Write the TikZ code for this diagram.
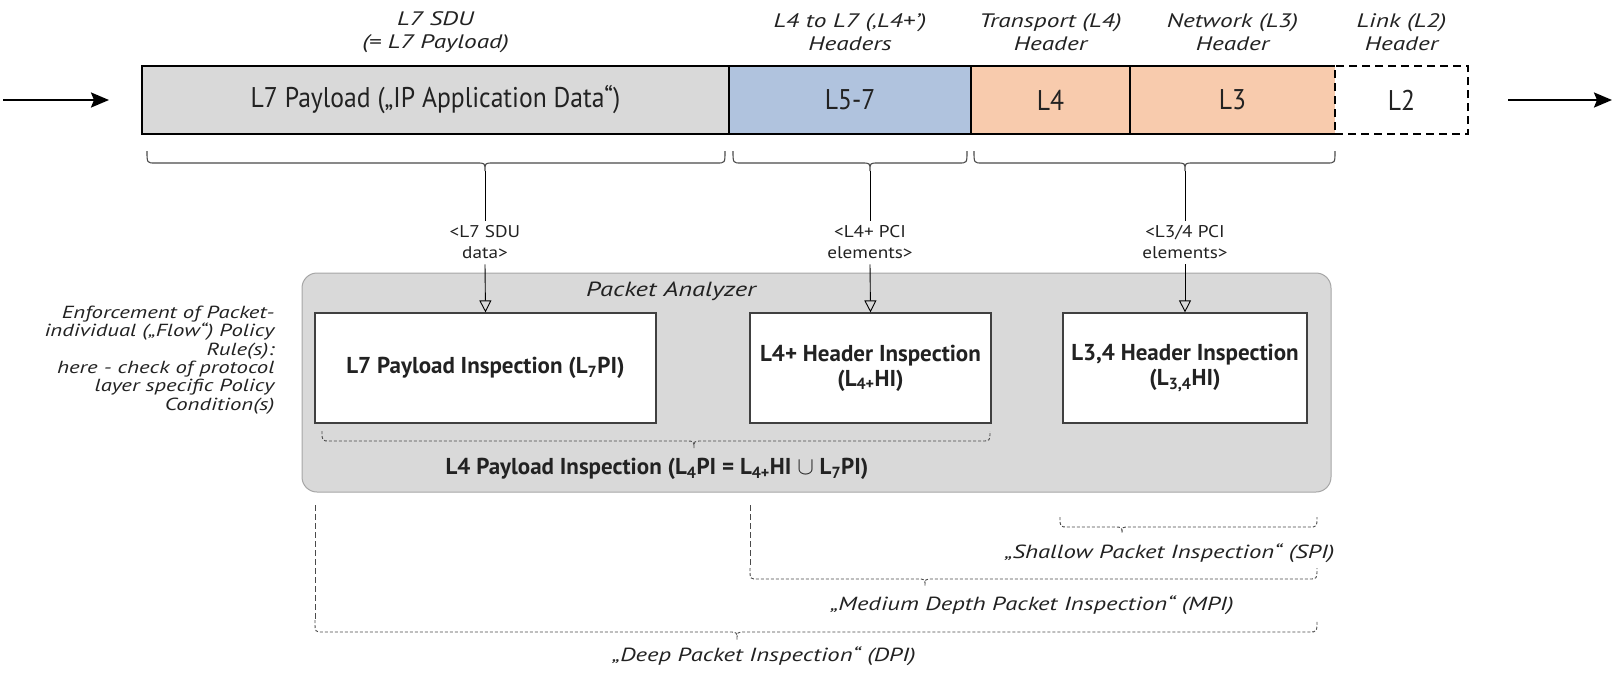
\documentclass[tikz,border=0pt]{standalone}
\usepackage{fontspec}
\setmainfont{PT Sans}
\newfontfamily\condf{PT Sans}[FakeStretch=0.9]
\newfontfamily\widef{PT Sans}[FakeStretch=1.13]
\newfontfamily\itf{PT Sans}[FakeStretch=1.3]
\usetikzlibrary{arrows.meta}

\definecolor{txt}{HTML}{222222}
\definecolor{payload}{HTML}{D9D9D9}
\definecolor{hdrblue}{HTML}{B0C3DE}
\definecolor{hdrorange}{HTML}{F8CBAD}
\definecolor{pafill}{HTML}{D9D9D9}
\definecolor{paline}{HTML}{A6A6A6}
\definecolor{boxline}{HTML}{404040}
\definecolor{bracecol}{HTML}{4A4A4A}

% curly brace: [style]{x left}{x right}{x tip}{y ends}{y bar}{y tip}
\newcommand{\curlyb}[7][]{%
  \draw[#1] (#2,#5) .. controls (#2,#6) .. (#2+8,#6) -- (#4-8,#6)
    .. controls (#4,#6) .. (#4,#7) .. controls (#4,#6) .. (#4+8,#6)
    -- (#3-8,#6) .. controls (#3,#6) .. (#3,#5);}

\begin{document}
\begin{tikzpicture}[x=1pt,y=-1pt,
  cell/.style={minimum height=68pt, inner sep=0pt, text=txt,
    font=\condf\fontsize{28.5}{31}\selectfont},
  hdr/.style={align=center, text=txt, font=\itf\itshape\fontsize{19.5}{22.4}\selectfont},
  pci/.style={align=center, text=txt, inner sep=5pt,
    font=\widef\fontsize{17}{21}\selectfont},
  insp/.style={draw=boxline, fill=white, line width=1.2pt, minimum height=110pt,
    inner sep=0pt, align=center, text=txt,
    font=\bfseries\fontsize{23}{25}\selectfont},
  depth/.style={text=txt, font=\itf\itshape\fontsize{19}{22}\selectfont},
  sbrace/.style={draw=bracecol, line width=1.1pt},
  dbrace/.style={draw=bracecol, line width=0.9pt, dash pattern=on 3pt off 2pt},
  dlead/.style={draw=bracecol, line width=0.9pt, dash pattern=on 6pt off 3pt},
  bigarrow/.style={line width=2.4pt, -{Stealth[length=18pt,width=15pt,inset=3pt]}},
  feed/.style={line width=0.9pt, -{Triangle[open,length=12pt,width=12pt]}}
]
\useasboundingbox (0,0) rectangle (1614,678);

% ---- packet fields ----
\node[cell, fill=payload, minimum width=587pt] (c7) at (435.5,100) {L7 Payload („IP Application Data“)};
\node[cell, fill=hdrblue, minimum width=242pt] (c57) at (850,100) {L5-7};
\node[cell, fill=hdrorange, minimum width=159pt] (c4) at (1050.5,100) {L4};
\node[cell, fill=hdrorange, minimum width=205pt] (c3) at (1232.5,100) {L3};
\node[cell, minimum width=133pt, draw, line width=1.5pt, dash pattern=on 8pt off 5pt] (c2) at (1401.5,100) {L2};
\draw[line width=1.5pt] (c3.north east) -- (c7.north west) -- (c7.south west) -- (c3.south east);
\draw[line width=1.5pt] (c7.north east) -- (c7.south east);
\draw[line width=1.5pt] (c57.north east) -- (c57.south east);
\draw[line width=1.5pt] (c4.north east) -- (c4.south east);

% ---- field titles ----
\node[hdr] (h7) at (435.5,32) {L7 SDU\\(= L7 Payload)};
\node[hdr] (h57) at (850,32) {L4 to L7 (‚L4+’)\\Headers};
\node[hdr] (h4) at (1050.5,32) {Transport (L4)\\Header};
\node[hdr] (h3) at (1232.5,32) {Network (L3)\\Header};
\node[hdr] (h2) at (1401.5,32) {Link (L2)\\Header};

% ---- flow arrows ----
\coordinate (inS) at (3,100);
\coordinate (inE) at (109,100);
\coordinate (outS) at (1508,100);
\coordinate (outE) at (1612,100);
\draw[bigarrow] (inS) -- (inE);
\draw[bigarrow] (outS) -- (outE);

% ---- packet analyzer ----
\node[draw=paline, fill=pafill, line width=1pt, rounded corners=15pt,
  minimum width=1029pt, minimum height=219pt] (pa) at (816.5,382.5) {};
\node[text=txt, font=\itf\itshape\fontsize{20.5}{24}\selectfont] (patitle) at (671,291) {Packet Analyzer};

\node[insp, minimum width=341pt] (l7pi) at (485.5,368) {L7 Payload Inspection (L\textsubscript{7}PI)};
\node[insp, minimum width=241pt] (l4hi) at (870.5,368) {L4+ Header Inspection\\(L\textsubscript{4+}HI)};
\node[insp, minimum width=244pt] (l34hi) at (1185,368) {L3,4 Header Inspection\\(L\textsubscript{3,4}HI)};

% ---- braces over the fields, feeding the inspections ----
\curlyb[sbrace]{147}{725}{485}{151}{163}{171}
\curlyb[sbrace]{733}{967}{870}{151}{163}{171}
\curlyb[sbrace]{974}{1335}{1185}{151}{163}{171}
\coordinate (t7) at (485,171);
\coordinate (t4) at (870,171);
\coordinate (t3) at (1185,171);

\node[pci] (p7) at (485,242.5) {<L7 SDU\\data>};
\node[pci] (p4) at (870,242.5) {<L4+ PCI\\elements>};
\node[pci] (p3) at (1185,242.5) {<L3/4 PCI\\elements>};

\draw[line width=0.9pt] (t7) -- (p7.north);
\draw[line width=0.9pt] (t4) -- (p4.north);
\draw[line width=0.9pt] (t3) -- (p3.north);
\draw[feed] (p7.south) -- (l7pi.north);
\draw[feed] (p4.south) -- (l4hi.north);
\draw[feed] (p3.south) -- (l34hi.north);

% ---- L4 payload inspection ----
\curlyb[dbrace]{322}{990}{694}{431}{441}{448}
\node[text=txt, font=\bfseries\fontsize{23}{25}\selectfont] (l4pi) at (657,469)
  {L4 Payload Inspection (L\textsubscript{4}PI = L\textsubscript{4+}HI $\cup$ L\textsubscript{7}PI)};

% ---- policy note ----
\node[anchor=east, align=right, text=txt, font=\itf\itshape\fontsize{17.5}{18.3}\selectfont] (note) at (278,360)
  {Enforcement of Packet-\\individual („Flow“) Policy\\Rule(s):\\here - check of protocol\\layer specific Policy\\Condition(s)};

% ---- inspection depths ----
\coordinate (dpiS) at (315,505);
\coordinate (dpiC) at (315,620);
\coordinate (mpiS) at (750,505);
\coordinate (mpiC) at (750,568);
\draw[dlead] (dpiS) -- (dpiC);
\draw[dlead] (mpiS) -- (mpiC);
\draw[dbrace] (dpiC) -- (315,622) .. controls (315,632) .. (323,632) -- (729,632)
  .. controls (737,632) .. (737,640) .. controls (737,632) .. (745,632)
  -- (1309,632) .. controls (1317,632) .. (1317,620);
\draw[dbrace] (mpiC) -- (750,570) .. controls (750,579) .. (758,579) -- (917,579)
  .. controls (925,579) .. (925,586) .. controls (925,579) .. (933,579)
  -- (1309,579) .. controls (1317,579) .. (1317,568);
\curlyb[dbrace]{1060}{1317}{1122}{517}{527}{533}

\node[depth, anchor=east] (spi) at (1338,553) {„Shallow Packet Inspection“ (SPI)};
\node[depth] (mpi) at (1032,605) {„Medium Depth Packet Inspection“ (MPI)};
\node[depth] (dpi) at (764,656) {„Deep Packet Inspection“ (DPI)};
\end{tikzpicture}
\end{document}
